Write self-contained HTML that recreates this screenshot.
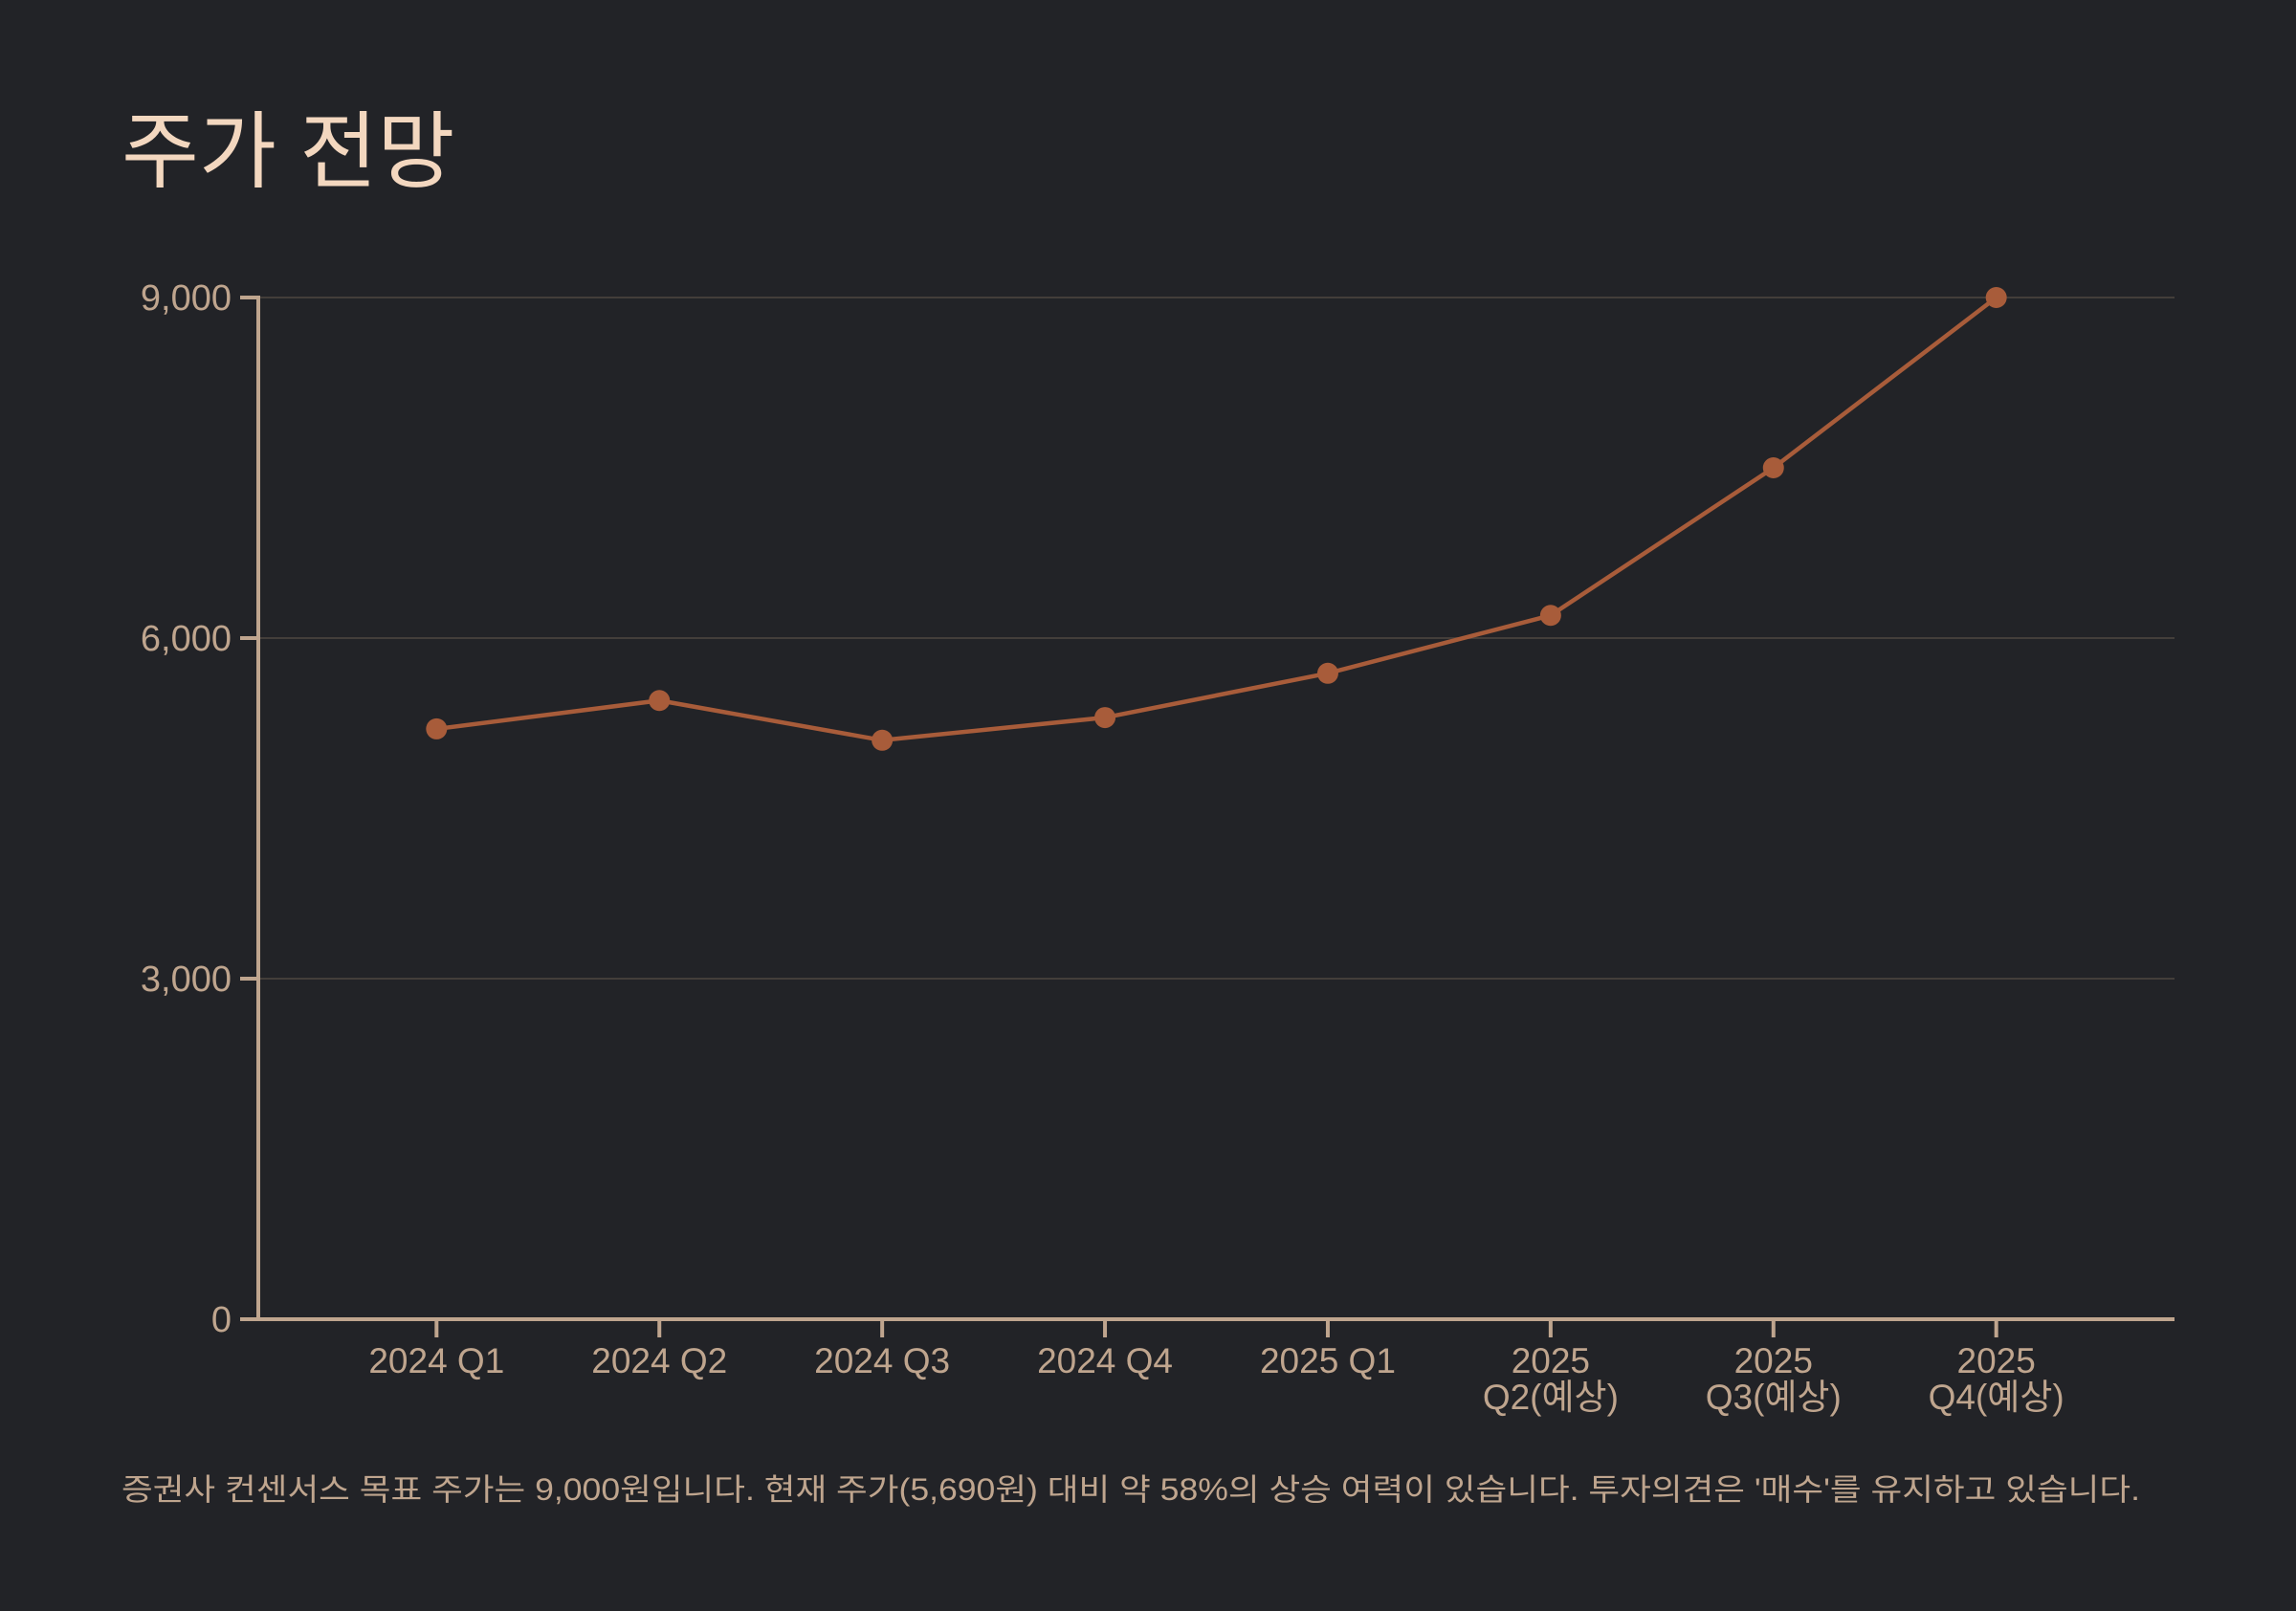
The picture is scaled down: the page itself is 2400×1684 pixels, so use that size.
<!DOCTYPE html>
<html><head><meta charset="utf-8"><style>
html,body{margin:0;padding:0;background:#222327;}
svg{display:block;}
text{font-family:"Liberation Sans","Noto Sans CJK KR",sans-serif;}
</style></head><body>
<svg id="chart" width="2400" height="1684" viewBox="0 0 2400 1684">
<rect width="2400" height="1684" fill="#222327"/>
<text x="127" y="189" font-size="88" fill="#f3d7bf">주가 전망</text>
<g id="grid"></g><g id="axes"></g><g id="series"></g>
<text x="127" y="1568" font-size="32" fill="#bfa58e" textLength="2110" lengthAdjust="spacingAndGlyphs">증권사 컨센서스 목표 주가는 9,000원입니다. 현재 주가(5,690원) 대비 약 58%의 상승 여력이 있습니다. 투자의견은 '매수'를 유지하고 있습니다.</text>
</svg>
<script>
const categories=["2024 Q1","2024 Q2","2024 Q3","2024 Q4","2025 Q1","2025|Q2(예상)","2025|Q3(예상)","2025|Q4(예상)"];
const prices=[5200,5450,5100,5300,5690,6200,7500,9000];
const yTicks=[0,3000,6000,9000];
const yTickLabels=["0","3,000","6,000","9,000"];
const NS="http://www.w3.org/2000/svg";
const L=270,R=2273,T=311,B=1379,yMax=9000;
const step=(R-L)/(categories.length-1+1.6);
function x(i){return L+0.8*step+i*step;}
function y(v){return B-(v/yMax)*(B-T);}
function mk(tag,attrs,parent){const e=document.createElementNS(NS,tag);for(const k in attrs)e.setAttribute(k,attrs[k]);parent.appendChild(e);return e;}
const grid=document.getElementById('grid'),axes=document.getElementById('axes'),series=document.getElementById('series');
yTicks.forEach((t,i)=>{
  if(t>0){const g=mk('line',{x1:L,x2:R,y1:y(t),y2:y(t),stroke:'#433e3a','stroke-width':2},grid);
  
  }
  const tk=mk('line',{x1:L-19,x2:L,y1:y(t),y2:y(t),stroke:'#bfa58e','stroke-width':4},axes);
  
  
  const tx=mk('text',{x:L-28,y:y(t)+13,'font-size':38,fill:'#bfa58e','text-anchor':'end'},axes);
  tx.textContent=yTickLabels[i];
  
  
});
const ya=mk('line',{x1:L,x2:L,y1:T-2,y2:B+2,stroke:'#bfa58e','stroke-width':4},axes);


const xa=mk('line',{x1:L-2,x2:R,y1:B,y2:B,stroke:'#bfa58e','stroke-width':4},axes);


categories.forEach((c,i)=>{
  const tk=mk('line',{x1:x(i),x2:x(i),y1:B,y2:B+19,stroke:'#bfa58e','stroke-width':4},axes);
  
  
  const parts=c.split('|');
  parts.forEach((p,j)=>{
    const tx=mk('text',{x:x(i),y:B+56+j*38,'font-size':37,fill:'#bfa58e','text-anchor':'middle'},axes);
    tx.textContent=p;
    
    
  });
});
const pl=mk('polyline',{points:prices.map((v,i)=>x(i)+','+y(v)).join(' '),fill:'none',stroke:'#a85c3a','stroke-width':4.5,'stroke-linejoin':'round'},series);


prices.forEach((v,i)=>{
  const c=mk('circle',{cx:x(i),cy:y(v),r:11,fill:'#a85c3a'},series);
  
  
});
</script>
</body></html>
